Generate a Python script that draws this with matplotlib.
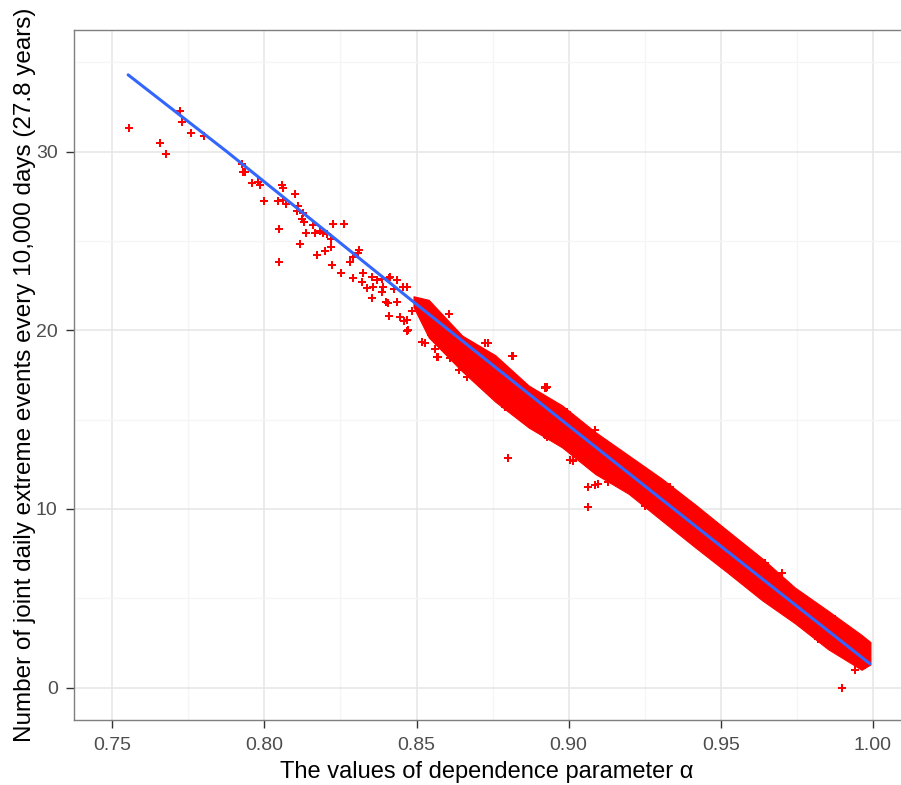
import matplotlib
matplotlib.use("Agg")
import matplotlib.pyplot as plt
from matplotlib.ticker import MultipleLocator

# --- Data ---
# scattered single points (alpha, events)
pts_x = [0.7556, 0.7723, 0.7730, 0.7759, 0.7802, 0.7658, 0.7676, 0.7925, 0.7936,
         0.7931, 0.7958, 0.7980, 0.7986, 0.8000, 0.8057, 0.8062, 0.8101, 0.8046,
         0.8062, 0.8070, 0.8109, 0.8106, 0.8128, 0.8125, 0.8131, 0.8049, 0.8159,
         0.8166, 0.8137, 0.8183, 0.8194, 0.8205, 0.8224, 0.8263, 0.8219, 0.8117,
         0.8049, 0.8174, 0.8199, 0.8219, 0.8221, 0.8251, 0.8281, 0.8290, 0.8312,
         0.8309, 0.8292, 0.8320, 0.8325, 0.8353, 0.8369, 0.8391, 0.8413, 0.8435,
         0.8457, 0.8468, 0.8336, 0.8358, 0.8353, 0.8407, 0.8411, 0.8446, 0.8468,
         0.8473, 0.8528, 0.8561, 0.8572, 0.8610, 0.8687, 0.8736, 0.8818, 0.8928,
         0.8802, 0.8928, 0.9015, 0.9065, 0.9087, 0.9098, 0.9129, 0.9065, 0.9013,
         0.9333, 0.8926, 0.9898,
         0.8387, 0.8409, 0.8387, 0.8398, 0.8409, 0.8426, 0.8437, 0.8469, 0.8458,
         0.8486, 0.8519, 0.8546, 0.8568, 0.8606, 0.8606, 0.8639, 0.8666, 0.8726,
         0.8814, 0.8792, 0.8830, 0.8880, 0.8923, 0.8921, 0.8995, 0.9005,
         0.8923, 0.9088, 0.9328, 0.9367, 0.9646, 0.9700, 0.9875, 0.9919,
         0.9252, 0.9580, 0.9821, 0.9941, 0.9974]
pts_y = [31.30, 32.29, 31.67, 31.06, 30.87, 30.46, 29.87, 29.31, 28.84,
         28.88, 28.26, 28.32, 28.13, 27.22, 28.13, 27.98, 27.61, 27.22,
         27.29, 27.05, 26.96, 26.68, 26.58, 26.21, 26.04, 25.69, 25.89,
         25.43, 25.43, 25.57, 25.46, 25.39, 25.93, 25.95, 25.11, 24.83,
         23.80, 24.21, 24.45, 24.64, 23.65, 23.21, 23.80, 24.12, 24.49,
         24.31, 22.91, 22.72, 23.19, 23.00, 22.81, 22.44, 23.00, 22.81,
         22.44, 22.44, 22.35, 22.44, 21.79, 21.54, 20.80, 20.76, 20.58,
         20.02, 19.27, 18.94, 18.49, 18.43, 17.44, 19.27, 18.56, 16.81,
         12.87, 14.01, 12.74, 11.25, 11.34, 11.40, 11.53, 10.13, 12.69,
         11.21, 16.79, 0.00,
         22.86, 22.95, 22.12, 21.56, 20.82, 22.30, 21.56, 19.98, 20.54,
         21.09, 19.33, 19.76, 18.50, 20.91, 18.87, 17.76, 17.38, 19.28,
         18.55, 15.71, 16.09, 14.79, 14.14, 16.77, 15.44, 12.75,
         16.83, 14.42, 11.22, 10.67, 7.00, 6.44, 3.84, 3.28,
         10.15, 6.16, 2.73, 0.96, 1.24]

# dense cloud of points: upper and lower edges
band_x = [0.8490, 0.8540, 0.8650, 0.8759, 0.8869, 0.8978, 0.9088, 0.9197,
          0.9306, 0.9416, 0.9525, 0.9635, 0.9744, 0.9853, 0.9963, 0.9992]
band_hi = [21.90, 21.70, 19.70, 18.60, 16.90, 15.80, 14.30, 13.00,
           11.70, 10.25, 8.75, 7.25, 5.60, 4.30, 2.95, 2.55]
band_lo = [21.30, 19.60, 17.70, 16.00, 14.55, 13.45, 11.95, 10.85,
           9.35, 7.85, 6.40, 4.90, 3.60, 2.15, 1.00, 1.30]

# smoothed fit (blue line)
fit_x = [0.7552, 0.7876, 0.8500, 0.9000, 0.9500, 0.9990]
fit_y = [34.29, 30.00, 21.45, 14.66, 7.92, 1.34]

X_LABEL = "The values of dependence parameter α"
Y_LABEL = "Number of joint daily extreme events every 10,000 days (27.8 years)"

plt.rcParams['font.family'] = ['Liberation Sans', 'DejaVu Sans']

fig = plt.figure(figsize=(9.01, 7.85), dpi=100)
ax = fig.add_axes([74.3 / 901, 65 / 785, 859.4 / 901, 690 / 785])

ax.fill_between(band_x, band_lo, band_hi, color='#FF0000', lw=0.8,
                edgecolor='#FF0000', zorder=2)
ax.scatter(pts_x, pts_y, marker='P', s=36, color='#FF0000', linewidths=0,
           zorder=3)
ax.plot(fit_x, fit_y, color='#3366FF', lw=2.2, zorder=4,
        solid_capstyle='round')

ax.set_xlim(0.7375, 1.02)
ax.set_ylim(-1.81, 36.80)

ax.xaxis.set_minor_locator(MultipleLocator(0.025))
ax.yaxis.set_minor_locator(MultipleLocator(5))
ax.set_xticks([0.75, 0.80, 0.85, 0.90, 0.95, 1.00])
ax.set_xticklabels(["0.75", "0.80", "0.85", "0.90", "0.95", "1.00"])
ax.set_yticks([0, 10, 20, 30])
ax.set_yticklabels(["0", "10", "20", "30"])

ax.grid(which='major', color='#E5E5E5', lw=1.1, zorder=0)
ax.grid(which='minor', color='#F5F5F5', lw=1.0, zorder=0)
ax.set_axisbelow(True)

for sp in ax.spines.values():
    sp.set_color('#7F7F7F')
    sp.set_linewidth(1.0)

ax.tick_params(which='major', length=6, width=1.0, color='#333333',
               labelsize=14, labelcolor='#4D4D4D', pad=6)
ax.tick_params(which='minor', length=0)

ax.set_xlabel(X_LABEL, fontsize=17, color='black', va='center')
ax.set_ylabel(Y_LABEL, fontsize=17.5, color='black', va='center')
ax.xaxis.set_label_coords((487 - 74.3) / 859.4, -52 / 690)
ax.yaxis.set_label_coords((25 - 74.3) / 859.4, 0.5)

fig.savefig("out.png", dpi=100)
